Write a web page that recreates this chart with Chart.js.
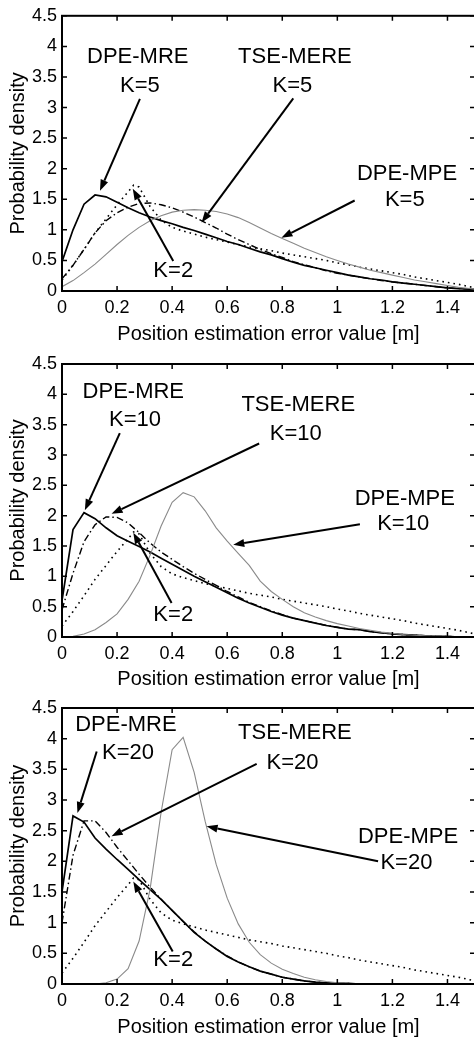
<!DOCTYPE html>
<html>
<head>
<meta charset="utf-8">
<script src="https://cdn.jsdelivr.net/npm/chart.js@4.4.1/dist/chart.umd.min.js"></script>
<style>
html, body { margin: 0; padding: 0; background: #fff; overflow: hidden; width: 474px; height: 1039px; }
canvas { position: absolute; left: 0; }
</style>
</head>
<body>
<canvas id="p1" width="476" height="346" style="top:0px"></canvas>
<canvas id="p2" width="476" height="345" style="top:346px"></canvas>
<canvas id="p3" width="476" height="348" style="top:691px"></canvas>
<script>
// x grid shared by the K=N curves (0.04 m steps)
const xGrid = [0,0.04,0.08,0.12,0.16,0.20,0.24,0.28,0.32,0.36,0.40,0.44,0.48,0.52,0.56,0.60,0.64,0.68,0.72,0.76,
               0.80,0.84,0.88,0.92,0.96,1.00,1.04,1.08,1.12,1.16,1.20,1.24,1.28,1.32,1.36,1.40,1.44,1.48,1.52];
const xTicks = [0,0.2,0.4,0.6,0.8,1,1.2,1.4];
const yTicks = [0,0.5,1,1.5,2,2.5,3,3.5,4,4.5];

// K=2 curve (same in every panel)
const k2X = [0,0.04,0.08,0.12,0.16,0.20,0.24,0.26,0.28,0.32,0.36,0.40,0.44,0.48,0.52,0.56,0.60,0.64,0.68,0.72,
             0.76,0.80,0.84,0.88,0.92,0.96,1.00,1.04,1.08,1.12,1.16,1.20,1.24,1.28,1.32,1.36,1.40,1.44,1.48,1.52];
const k2Y = [0.18,0.42,0.68,0.95,1.18,1.41,1.62,1.73,1.70,1.38,1.16,1.04,0.98,0.93,0.88,0.84,0.80,0.76,0.72,0.69,
             0.66,0.62,0.59,0.56,0.53,0.50,0.46,0.43,0.39,0.36,0.33,0.30,0.27,0.23,0.20,0.17,0.14,0.11,0.07,0.03];

// K=5
const mre5  = [0.48,1.00,1.42,1.57,1.54,1.45,1.36,1.28,1.21,1.15,1.10,1.04,0.99,0.93,0.87,0.81,0.76,0.70,0.64,0.59,
               0.53,0.47,0.42,0.38,0.34,0.30,0.26,0.23,0.20,0.18,0.15,0.13,0.11,0.09,0.07,0.05,0.04,0.03,0.02];
const mere5 = [0.20,0.42,0.68,0.95,1.15,1.28,1.37,1.43,1.44,1.41,1.36,1.29,1.21,1.12,1.03,0.93,0.84,0.76,0.68,0.61,
               0.55,0.48,0.43,0.38,0.33,0.29,0.26,0.23,0.20,0.17,0.15,0.13,0.11,0.09,0.07,0.05,0.04,0.03,0.02];
const mpe5  = [0.07,0.17,0.30,0.44,0.60,0.76,0.91,1.04,1.15,1.23,1.29,1.32,1.33,1.32,1.30,1.26,1.20,1.12,1.03,0.94,
               0.86,0.78,0.70,0.63,0.56,0.50,0.44,0.39,0.34,0.30,0.26,0.22,0.18,0.15,0.12,0.09,0.06,0.04,0.02];

// K=10
const mre10  = [0.60,1.77,2.05,1.95,1.80,1.67,1.58,1.49,1.40,1.30,1.20,1.10,1.00,0.91,0.82,0.73,0.64,0.56,0.49,0.42,
                0.36,0.31,0.27,0.23,0.19,0.16,0.13,0.12,0.09,0.07,0.05,0.04,0.03,0.02,0.01,0.01,0,0,0];
const mere10 = [0.45,1.05,1.57,1.85,1.98,1.97,1.88,1.72,1.55,1.40,1.28,1.16,1.05,0.95,0.85,0.75,0.66,0.57,0.50,0.43,
                0.37,0.31,0.27,0.23,0.19,0.16,0.13,0.12,0.09,0.07,0.05,0.04,0.03,0.02,0.01,0.01,0,0,0];
const mpe10  = [0,0.01,0.05,0.12,0.24,0.38,0.62,0.92,1.35,1.83,2.22,2.38,2.31,2.08,1.80,1.58,1.38,1.18,0.92,0.75,
                0.62,0.50,0.40,0.33,0.27,0.22,0.18,0.14,0.11,0.08,0.06,0.04,0.03,0.02,0.01,0.01,0,0,0];

// K=20
const mre20  = [1.50,2.74,2.64,2.38,2.20,2.03,1.87,1.70,1.54,1.38,1.20,1.02,0.84,0.70,0.57,0.45,0.36,0.28,0.21,0.16,
                0.11,0.08,0.05,0.03,0.02,0.01,0.01,0,0,0,0,0,0,0,0,0,0,0,0];
const mere20 = [1.00,2.10,2.66,2.66,2.47,2.23,2.01,1.79,1.58,1.38,1.20,1.02,0.85,0.70,0.57,0.46,0.36,0.28,0.21,0.16,
                0.11,0.08,0.05,0.03,0.02,0.01,0.01,0,0,0,0,0,0,0,0,0,0,0,0];
const mpe20  = [0,0,0,0,0.02,0.08,0.25,0.70,1.55,2.80,3.82,4.02,3.45,2.65,1.95,1.40,0.98,0.68,0.48,0.34,
                0.24,0.17,0.11,0.07,0.04,0.02,0.01,0,0,0,0,0,0,0,0,0,0,0,0];

// text labels [text, x, y] and arrows [fromX, fromY, toX, toY], in data units
const notes1 = [["DPE-MRE",0.275,3.83],["K=5",0.283,3.36],["TSE-MERE",0.846,3.83],["K=5",0.837,3.36],
                ["DPE-MPE",1.253,1.91],["K=5",1.245,1.49],["K=2",0.404,0.33]];
const arrows1 = [[0.283,3.14,0.138,1.64],[0.84,3.15,0.507,1.12],[1.063,1.48,0.797,0.87],[0.404,0.49,0.257,1.67]];
const notes2 = [["DPE-MRE",0.259,4.04],["K=10",0.265,3.57],["TSE-MERE",0.858,3.82],["K=10",0.849,3.34],
                ["DPE-MPE",1.245,2.28],["K=10",1.239,1.87],["K=2",0.404,0.36]];
const arrows2 = [[0.21,3.36,0.083,2.09],[0.716,3.19,0.18,2.03],[1.082,1.86,0.622,1.52],[0.398,0.56,0.259,1.72]];
const notes3 = [["DPE-MRE",0.232,4.23],["K=20",0.24,3.76],["TSE-MERE",0.846,4.09],["K=20",0.837,3.60],
                ["DPE-MPE",1.257,2.40],["K=20",1.251,1.98],["K=2",0.404,0.39]];
const arrows3 = [[0.126,3.79,0.056,2.79],[0.707,3.59,0.18,2.41],[1.148,2.0,0.525,2.57],[0.402,0.53,0.259,1.67]];

const FONT = '"Liberation Sans", Arial, Helvetica, sans-serif';
Chart.defaults.font.family = FONT;
Chart.defaults.color = '#000';

function pts(xs, ys) { return ys.map((v, i) => ({x: xs[i], y: v})); }

const framePlugin = {
    id: 'frame',
    afterDatasetsDraw(chart, args, opts) {
        const ctx = chart.ctx, a = chart.chartArea;
        const x = chart.scales.x, y = chart.scales.y;
        ctx.save();
        ctx.strokeStyle = '#000';
        ctx.lineWidth = 2;
        ctx.strokeRect(a.left, a.top, a.right - a.left, a.bottom - a.top);
        ctx.lineWidth = 1.5;
        ctx.beginPath();
        xTicks.forEach(v => {
            const px = x.getPixelForValue(v);
            ctx.moveTo(px, a.bottom); ctx.lineTo(px, a.bottom - 5);
            ctx.moveTo(px, a.top); ctx.lineTo(px, a.top + 5);
        });
        yTicks.forEach(v => {
            const py = y.getPixelForValue(v);
            ctx.moveTo(a.left, py); ctx.lineTo(a.left + 5, py);
            ctx.moveTo(a.right, py); ctx.lineTo(a.right - 5, py);
        });
        ctx.stroke();

        // arrows
        ctx.fillStyle = '#000';
        ctx.lineWidth = 2;
        opts.arrows.forEach(r => {
            const x1 = x.getPixelForValue(r[0]), y1 = y.getPixelForValue(r[1]);
            const x2 = x.getPixelForValue(r[2]), y2 = y.getPixelForValue(r[3]);
            const ang = Math.atan2(y2 - y1, x2 - x1);
            const len = 11, hw = 4;
            const bx = x2 - len * Math.cos(ang), by = y2 - len * Math.sin(ang);
            ctx.beginPath();
            ctx.moveTo(x1, y1); ctx.lineTo(bx, by);
            ctx.stroke();
            ctx.beginPath();
            ctx.moveTo(x2, y2);
            ctx.lineTo(bx + hw * Math.sin(ang), by - hw * Math.cos(ang));
            ctx.lineTo(bx - hw * Math.sin(ang), by + hw * Math.cos(ang));
            ctx.closePath();
            ctx.fill();
        });

        // labels
        ctx.font = '22px ' + FONT;
        ctx.textAlign = 'center';
        ctx.textBaseline = 'middle';
        opts.notes.forEach(n => {
            ctx.fillText(n[0], x.getPixelForValue(n[1]), y.getPixelForValue(n[2]));
        });
        ctx.restore();
    }
};

function makePanel(id, padTop, xHeight, mre, mere, mpe, notes, arrows) {
    const ctx = document.getElementById(id).getContext('2d');
    return new Chart(ctx, {
        type: 'scatter',
        data: {
            datasets: [
                { label: 'DPE-MPE', data: pts(xGrid, mpe), borderColor: '#8a8a8a', borderWidth: 1.1 },
                { label: 'K=2', data: pts(k2X, k2Y), borderColor: '#000', borderWidth: 1.6, borderDash: [1.6, 4] },
                { label: 'TSE-MERE', data: pts(xGrid, mere), borderColor: '#000', borderWidth: 1.4, borderDash: [7, 3, 1.5, 3] },
                { label: 'DPE-MRE', data: pts(xGrid, mre), borderColor: '#000', borderWidth: 1.7 }
            ]
        },
        options: {
            responsive: false,
            animation: false,
            showLine: true,
            elements: { point: { radius: 0 }, line: { tension: 0, fill: false } },
            layout: { padding: { top: padTop, right: 1, left: 0, bottom: 0 } },
            plugins: {
                legend: { display: false },
                tooltip: { enabled: false },
                frame: { notes: notes, arrows: arrows }
            },
            scales: {
                x: {
                    type: 'linear', min: 0, max: 1.5,
                    afterBuildTicks: s => { s.ticks = xTicks.map(v => ({ value: v })); },
                    afterFit: s => { s.height = xHeight; },
                    ticks: { font: { size: 18 }, padding: 6, maxRotation: 0, autoSkip: false, callback: v => String(v) },
                    grid: { display: false, drawTicks: false },
                    border: { display: false },
                    title: { display: true, text: 'Position estimation error value [m]', font: { size: 20 }, padding: 0 }
                },
                y: {
                    type: 'linear', min: 0, max: 4.5,
                    afterBuildTicks: s => { s.ticks = yTicks.map(v => ({ value: v })); },
                    afterFit: s => { s.width = 62; },
                    ticks: { font: { size: 18 }, padding: 5, callback: v => String(v) },
                    grid: { display: false, drawTicks: false },
                    border: { display: false },
                    title: { display: true, text: 'Probability density', font: { size: 20 }, padding: { top: 6, bottom: 0 } }
                }
            }
        },
        plugins: [framePlugin]
    });
}

makePanel('p1', 14, 55, mre5, mere5, mpe5, notes1, arrows1);
makePanel('p2', 18, 54, mre10, mere10, mpe10, notes2, arrows2);
makePanel('p3', 17, 55, mre20, mere20, mpe20, notes3, arrows3);
</script>
</body>
</html>
